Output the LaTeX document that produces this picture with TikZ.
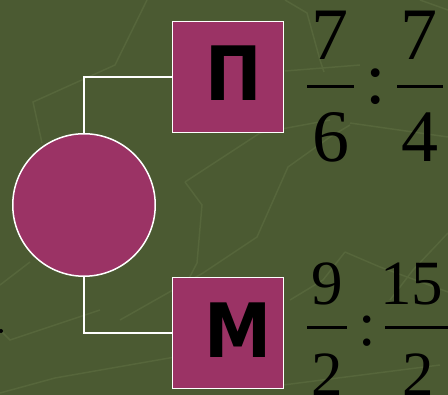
\documentclass[tikz,border=0pt]{standalone}
\usepackage{fontspec}
\setmainfont{Liberation Serif}
\newfontfamily\lettfont{DejaVu Sans Condensed}
\definecolor{bgc}{RGB}{75,90,50}
\definecolor{bgline}{RGB}{86,102,59}
\definecolor{magc}{RGB}{155,51,101}
\tikzset{
  boxnode/.style={draw=white, line width=1.5pt, fill=magc, minimum size=111pt, inner sep=0pt},
  roundnode/.style={circle, draw=white, line width=1.5pt, fill=magc, minimum size=142.5pt, inner sep=0pt},
  lettnode/.style={inner sep=0pt, font=\lettfont\bfseries\fontsize{75}{75}\selectfont},
  conn/.style={draw=white, line width=1.5pt},
  bigdig/.style={inner sep=0pt, anchor=base, font=\fontsize{74}{74}\selectfont},
  smalldig/.style={inner sep=0pt, anchor=base, font=\fontsize{63}{63}\selectfont},
  fbar/.style={line width=3pt},
  texture/.style={draw=bgline, line width=1.5pt}
}
\begin{document}
\begin{tikzpicture}[x=1pt,y=-1pt]
\fill[bgc] (0,0) rectangle (448,395);
\useasboundingbox (0,0) rectangle (448,395);
% faint background texture
\draw[texture] (147,0) -- (115,65) -- (33,102) -- (42,143);
\draw[texture] (0,285) -- (30,262);
\draw[texture] (285,0) -- (307,13) -- (320,60) -- (324,72);
\draw[texture] (285,71) -- (360,65);
\draw[texture] (350,123) -- (448,137);
\draw[texture] (185,182) -- (260,133) -- (330,120);
\draw[texture] (185,182) -- (202,205) -- (197,263) -- (182,292);
\draw[texture] (350,125) -- (330,137) -- (288,167) -- (257,237) -- (203,273) -- (120,320);
\draw[texture] (345,252) -- (380,267) -- (448,292);
\draw[texture] (345,252) -- (323,280) -- (290,300);
\draw[texture] (448,233) -- (413,270) -- (390,300);
\draw[texture] (0,393) -- (55,378) -- (175,357);
\draw[texture] (283,385) -- (440,365);
\draw[texture] (0,330) -- (10,340) -- (100,310);
\draw[texture] (420,0) -- (448,10);
% main nodes
\node[roundnode] (c) at (84,205) {};
\node[boxnode] (p) at (228,77) {};
\node[boxnode] (m) at (228,333) {};
\node[lettnode, anchor=base west] (pl) at (205,101) {П};
\node[lettnode, anchor=base west] (ml) at (204,358) {М};
\draw[conn] (c.north) |- (p.west);
\draw[conn] (c.south) |- (m.west);
% small mark at left edge
\fill[black] (1,331) circle (2pt);
% top fractions
\node[bigdig] (n1) at (330,60) {7};
\node[bigdig] (d1) at (331,162) {6};
\coordinate (b1l) at (307,87); \coordinate (b1r) at (354,87);
\draw[fbar] (b1l) -- (b1r);
\node[bigdig] (col1) at (376,104) {:};
\node[bigdig] (n2) at (419,60) {7};
\node[bigdig] (d2) at (420,162) {4};
\coordinate (b2l) at (397,87); \coordinate (b2r) at (443,87);
\draw[fbar] (b2l) -- (b2r);
% bottom fractions
\node[smalldig] (n3) at (327,305) {9};
\node[smalldig] (d3) at (327,396) {2};
\coordinate (b3l) at (307,328); \coordinate (b3r) at (347,328);
\draw[fbar] (b3l) -- (b3r);
\node[smalldig] (col2) at (367,346) {:};
\node[smalldig] (n4) at (411.5,305) {15};
\node[smalldig] (d4) at (418.5,396) {2};
\coordinate (b4l) at (385,328); \coordinate (b4r) at (450,328);
\draw[fbar] (b4l) -- (b4r);
\end{tikzpicture}
\end{document}
